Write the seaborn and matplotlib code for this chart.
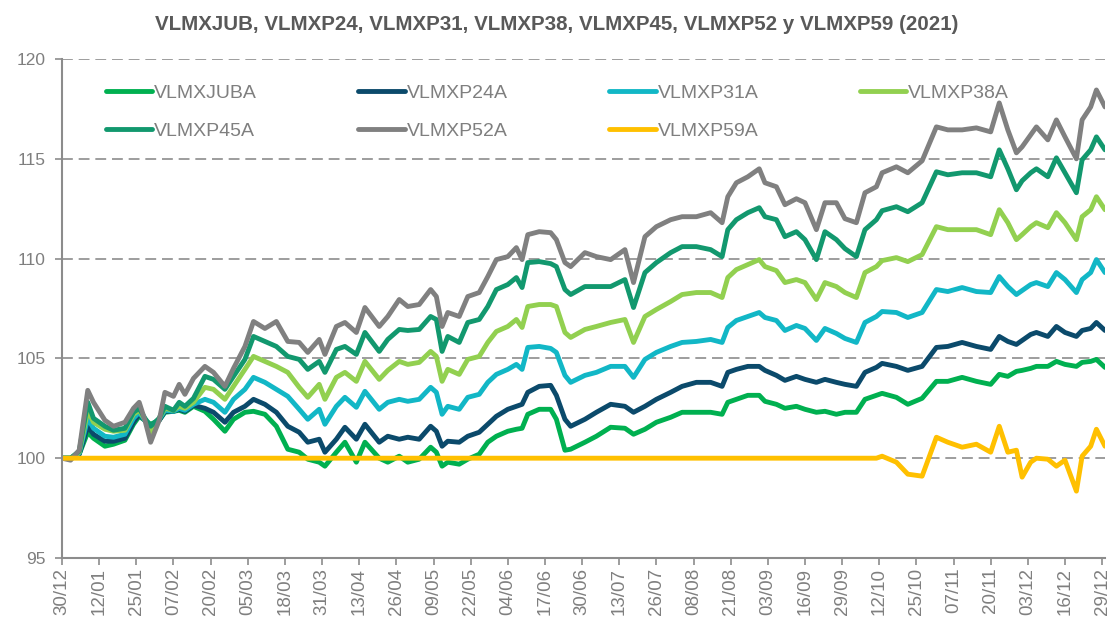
import pandas as pd
import matplotlib
matplotlib.use('Agg')
import matplotlib.pyplot as plt
import matplotlib.dates as mdates
import seaborn as sns

# Data (index base 100, 2021)
fechas = ['2020-12-30', '2021-01-02', '2021-01-05', '2021-01-08', '2021-01-10', '2021-01-14', '2021-01-17', '2021-01-21', '2021-01-24', '2021-01-26',
          '2021-01-28', '2021-01-30', '2021-02-02', '2021-02-04', '2021-02-07', '2021-02-09', '2021-02-11', '2021-02-14', '2021-02-18', '2021-02-21',
          '2021-02-25', '2021-02-28', '2021-03-04', '2021-03-07', '2021-03-11', '2021-03-15', '2021-03-19', '2021-03-23', '2021-03-26', '2021-03-30',
          '2021-04-01', '2021-04-05', '2021-04-08', '2021-04-12', '2021-04-15', '2021-04-20', '2021-04-23', '2021-04-27', '2021-04-30', '2021-05-04',
          '2021-05-08', '2021-05-10', '2021-05-12', '2021-05-14', '2021-05-18', '2021-05-21', '2021-05-25', '2021-05-28', '2021-05-31', '2021-06-04',
          '2021-06-07', '2021-06-09', '2021-06-11', '2021-06-15', '2021-06-19', '2021-06-21', '2021-06-24', '2021-06-26', '2021-07-01', '2021-07-05',
          '2021-07-10', '2021-07-15', '2021-07-18', '2021-07-22', '2021-07-26', '2021-07-31', '2021-08-04', '2021-08-09', '2021-08-14', '2021-08-18',
          '2021-08-20', '2021-08-23', '2021-08-27', '2021-08-31', '2021-09-02', '2021-09-06', '2021-09-09', '2021-09-13', '2021-09-16', '2021-09-20',
          '2021-09-23', '2021-09-27', '2021-09-30', '2021-10-04', '2021-10-07', '2021-10-11', '2021-10-13', '2021-10-18', '2021-10-22', '2021-10-27',
          '2021-11-01', '2021-11-05', '2021-11-10', '2021-11-15', '2021-11-20', '2021-11-23', '2021-11-26', '2021-11-29', '2021-12-01', '2021-12-04',
          '2021-12-06', '2021-12-10', '2021-12-13', '2021-12-16', '2021-12-20', '2021-12-22', '2021-12-25', '2021-12-27', '2021-12-30']

vlmxjuba = [100.0, 100.0, 100.2, 101.3, 101.0, 100.6, 100.7, 100.9, 101.7, 102.1,
            101.9, 101.7, 101.9, 102.3, 102.35, 102.4, 102.3, 102.6, 102.35, 101.95,
            101.35, 101.95, 102.3, 102.35, 102.2, 101.6, 100.45, 100.3, 99.95, 99.8,
            99.6, 100.3, 100.8, 99.8, 100.8, 100.0, 99.8, 100.1, 99.8, 99.95,
            100.55, 100.3, 99.6, 99.8, 99.7, 99.95, 100.2, 100.8, 101.1, 101.35,
            101.45, 101.5, 102.2, 102.45, 102.45, 101.95, 100.4, 100.45, 100.8, 101.1,
            101.55, 101.5, 101.2, 101.45, 101.8, 102.05, 102.3, 102.3, 102.3, 102.2,
            102.8, 102.95, 103.15, 103.15, 102.85, 102.7, 102.5, 102.6, 102.45, 102.3,
            102.35, 102.2, 102.3, 102.3, 102.95, 103.15, 103.25, 103.05, 102.7, 103.0,
            103.85, 103.85, 104.05, 103.85, 103.7, 104.2, 104.1, 104.35, 104.4, 104.5,
            104.6, 104.6, 104.85, 104.7, 104.6, 104.8, 104.85, 104.95, 104.55]

vlmxp24a = [100.0, 100.0, 100.2, 101.6, 101.2, 100.85, 100.85, 101.0, 101.8, 102.2,
            101.9, 101.6, 101.9, 102.35, 102.35, 102.45, 102.35, 102.65, 102.5, 102.3,
            101.8, 102.3, 102.6, 102.95, 102.7, 102.3, 101.6, 101.3, 100.8, 100.95,
            100.3, 100.95, 101.55, 100.95, 101.7, 100.8, 101.1, 100.95, 101.05, 100.95,
            101.6, 101.35, 100.6, 100.85, 100.8, 101.1, 101.3, 101.7, 102.1, 102.45,
            102.6, 102.7, 103.3, 103.6, 103.65, 103.15, 101.95, 101.6, 101.95, 102.3,
            102.7, 102.6, 102.3, 102.6, 102.95, 103.3, 103.6, 103.8, 103.8, 103.6,
            104.3, 104.45, 104.6, 104.6, 104.4, 104.15, 103.9, 104.1, 103.95, 103.8,
            103.95, 103.8, 103.7, 103.6, 104.3, 104.55, 104.75, 104.6, 104.4, 104.6,
            105.55, 105.6, 105.8, 105.6, 105.45, 106.1, 105.85, 105.7, 105.9, 106.2,
            106.3, 106.1, 106.6, 106.3, 106.1, 106.4, 106.5, 106.8, 106.4]

vlmxp31a = [100.0, 100.0, 100.25, 102.0, 101.5, 101.1, 101.05, 101.2, 102.0, 102.3,
            101.9, 101.5, 101.95, 102.4, 102.35, 102.5, 102.4, 102.7, 102.95, 102.8,
            102.3, 102.95, 103.45, 104.05, 103.8, 103.45, 103.1, 102.45, 101.95, 102.45,
            101.7, 102.6, 103.05, 102.55, 103.35, 102.45, 102.8, 102.95, 102.85, 102.95,
            103.55, 103.3, 102.2, 102.6, 102.45, 103.05, 103.2, 103.8, 104.2, 104.45,
            104.7, 104.45, 105.55, 105.6, 105.5, 105.3, 104.15, 103.8, 104.15, 104.3,
            104.6, 104.6, 104.05, 104.95, 105.3, 105.6, 105.8, 105.85, 105.95, 105.8,
            106.55, 106.9, 107.1, 107.3, 107.05, 106.9, 106.4, 106.65, 106.5, 105.9,
            106.5, 106.25, 106.0, 105.8, 106.8, 107.1, 107.35, 107.3, 107.05, 107.3,
            108.45, 108.35, 108.55, 108.35, 108.3, 109.1, 108.6, 108.2, 108.4, 108.7,
            108.8, 108.6, 109.3, 108.95, 108.3, 108.95, 109.3, 109.95, 109.3]

vlmxp38a = [100.0, 100.0, 100.3, 102.4, 101.8, 101.45, 101.35, 101.4, 102.2, 102.4,
            101.95, 101.3, 102.0, 102.5, 102.4, 102.6, 102.5, 102.8, 103.55, 103.45,
            102.95, 103.6, 104.45, 105.1, 104.85, 104.6, 104.3, 103.55, 103.05, 103.7,
            102.95, 104.05, 104.3, 103.85, 104.85, 103.95, 104.4, 104.85, 104.7, 104.8,
            105.35, 105.1, 103.85, 104.45, 104.2, 104.95, 105.1, 105.8, 106.35, 106.6,
            106.95, 106.55, 107.6, 107.7, 107.7, 107.6, 106.3, 106.05, 106.45, 106.6,
            106.8, 106.95, 105.8, 107.1, 107.45, 107.85, 108.2, 108.3, 108.3, 108.05,
            109.05, 109.45, 109.7, 109.95, 109.6, 109.4, 108.8, 108.95, 108.8, 107.95,
            108.8, 108.6, 108.3, 108.05, 109.3, 109.6, 109.9, 110.05, 109.85, 110.2,
            111.6, 111.45, 111.45, 111.45, 111.2, 112.45, 111.8, 110.95, 111.2, 111.6,
            111.8, 111.55, 112.3, 111.8, 110.95, 112.1, 112.45, 113.1, 112.45]

vlmxp45a = [100.0, 100.0, 100.35, 102.8, 102.0, 101.6, 101.4, 101.5, 102.3, 102.5,
            102.0, 101.6, 102.0, 102.6, 102.4, 102.8, 102.6, 103.0, 104.1, 103.95,
            103.45, 104.1, 104.95, 106.1, 105.85, 105.6, 105.1, 104.95, 104.45, 104.85,
            104.3, 105.45, 105.6, 105.2, 106.3, 105.35, 105.95, 106.45, 106.4, 106.45,
            107.1, 106.95, 105.35, 106.1, 105.8, 106.8, 106.95, 107.6, 108.45, 108.7,
            109.05, 108.55, 109.8, 109.85, 109.75, 109.6, 108.45, 108.2, 108.6, 108.6,
            108.6, 108.95, 107.55, 109.3, 109.8, 110.3, 110.6, 110.6, 110.45, 110.1,
            111.45, 111.95, 112.3, 112.55, 112.1, 111.95, 111.1, 111.35, 110.95, 109.95,
            111.35, 110.95, 110.5, 110.1, 111.45, 111.95, 112.4, 112.6, 112.35, 112.8,
            114.35, 114.2, 114.3, 114.3, 114.1, 115.45, 114.5, 113.45, 113.9, 114.3,
            114.5, 114.1, 115.05, 114.3, 113.3, 114.95, 115.45, 116.1, 115.45]

vlmxp52a = [100.0, 99.9, 100.4, 103.4, 102.8, 101.9, 101.6, 101.8, 102.5, 102.8,
            101.9, 100.8, 101.9, 103.3, 103.1, 103.7, 103.2, 104.0, 104.6, 104.3,
            103.6, 104.5, 105.6, 106.85, 106.5, 106.85, 105.85, 105.8, 105.3, 105.95,
            105.2, 106.6, 106.8, 106.3, 107.55, 106.6, 107.1, 107.95, 107.6, 107.7,
            108.45, 108.1, 106.6, 107.3, 107.1, 108.1, 108.3, 109.1, 109.95, 110.1,
            110.55, 109.95, 111.2, 111.35, 111.3, 110.95, 109.8, 109.6, 110.3, 110.1,
            109.95, 110.45, 108.8, 111.1, 111.6, 111.95, 112.1, 112.1, 112.3, 111.8,
            113.1, 113.8, 114.1, 114.5, 113.8, 113.6, 112.7, 113.0, 112.8, 111.45,
            112.8, 112.8, 112.0, 111.8, 113.3, 113.6, 114.3, 114.6, 114.3, 114.9,
            116.6, 116.45, 116.45, 116.55, 116.35, 117.8, 116.45, 115.3, 115.6, 116.2,
            116.6, 115.95, 116.95, 116.1, 115.0, 116.95, 117.6, 118.45, 117.6]

vlmxp59a = [100.0, 100.0, 100.0, 100.0, 100.0, 100.0, 100.0, 100.0, 100.0, 100.0,
            100.0, 100.0, 100.0, 100.0, 100.0, 100.0, 100.0, 100.0, 100.0, 100.0,
            100.0, 100.0, 100.0, 100.0, 100.0, 100.0, 100.0, 100.0, 100.0, 100.0,
            100.0, 100.0, 100.0, 100.0, 100.0, 100.0, 100.0, 100.0, 100.0, 100.0,
            100.0, 100.0, 100.0, 100.0, 100.0, 100.0, 100.0, 100.0, 100.0, 100.0,
            100.0, 100.0, 100.0, 100.0, 100.0, 100.0, 100.0, 100.0, 100.0, 100.0,
            100.0, 100.0, 100.0, 100.0, 100.0, 100.0, 100.0, 100.0, 100.0, 100.0,
            100.0, 100.0, 100.0, 100.0, 100.0, 100.0, 100.0, 100.0, 100.0, 100.0,
            100.0, 100.0, 100.0, 100.0, 100.0, 100.0, 100.1, 99.8, 99.2, 99.1,
            101.05, 100.8, 100.55, 100.7, 100.3, 101.6, 100.3, 100.4, 99.05, 99.8,
            100.0, 99.95, 99.6, 99.9, 98.35, 100.1, 100.6, 101.45, 100.6]

series = ['VLMXJUBA', 'VLMXP24A', 'VLMXP31A', 'VLMXP38A', 'VLMXP45A', 'VLMXP52A', 'VLMXP59A']
colores = ['#00B050', '#0B4A6B', '#12B7C6', '#92D050', '#12986E', '#808080', '#FFC000']
y_ticks = [95, 100, 105, 110, 115, 120]
titulo = 'VLMXJUB, VLMXP24, VLMXP31, VLMXP38, VLMXP45, VLMXP52 y VLMXP59 (2021)'

df = pd.DataFrame({'fecha': pd.to_datetime(fechas),
                   'VLMXJUBA': vlmxjuba, 'VLMXP24A': vlmxp24a, 'VLMXP31A': vlmxp31a,
                   'VLMXP38A': vlmxp38a, 'VLMXP45A': vlmxp45a, 'VLMXP52A': vlmxp52a,
                   'VLMXP59A': vlmxp59a})
largo = df.melt(id_vars='fecha', var_name='serie', value_name='valor')

sns.set_style('white')
plt.rcParams['font.family'] = ['Liberation Sans', 'DejaVu Sans']

gris = '#8C8C8C'
texto = '#7F7F7F'

fig = plt.figure(figsize=(11.14, 6.18), dpi=100)
ax = fig.add_axes([0.0557, 0.0971, 0.9362, 0.8074])

sns.lineplot(data=largo, x='fecha', y='valor', hue='serie', hue_order=series,
             palette=dict(zip(series, colores)), linewidth=3.5, ax=ax)

ax.set_xlim(pd.Timestamp('2020-12-30'), pd.Timestamp('2021-12-30'))
ax.set_ylim(95, 120)
ax.set_yticks(y_ticks)
ax.set_xticks(pd.date_range('2020-12-30', '2021-12-29', freq='13D'))
ax.xaxis.set_major_formatter(mdates.DateFormatter('%d/%m'))
ax.set_xlabel('')
ax.set_ylabel('')

ax.set_axisbelow(True)
ax.yaxis.grid(True, linestyle=(0, (6.5, 3.5)), color=gris, linewidth=1.2)
ax.xaxis.grid(False)

sns.despine(ax=ax)
for s in ['left', 'bottom']:
    ax.spines[s].set_color(gris)
    ax.spines[s].set_linewidth(1.5)

ax.tick_params(axis='x', direction='out', length=5, width=1.2, color=gris,
               labelrotation=90, labelsize=13.5, labelcolor=texto, pad=2, bottom=True)
ax.tick_params(axis='y', direction='out', length=5, width=1.2, color=gris,
               labelsize=12.5, labelcolor=texto, pad=7, left=True)

# legend filled column by column -> reorder to read row by row
handles, labels = ax.get_legend_handles_labels()
orden = [0, 4, 1, 5, 2, 6, 3]
ax.legend([handles[i] for i in orden], [labels[i] for i in orden],
          ncol=4, frameon=False, loc='upper left', bbox_to_anchor=(0.025, 0.985),
          fontsize=14, labelcolor=texto, handlelength=2.4, handletextpad=0.1,
          columnspacing=5.2, labelspacing=1.05)

fig.text(0.5, 1 - 25 / 618, titulo, ha='center', va='center', fontsize=14.8,
         fontweight='bold', color='#595959')

fig.savefig('out.png', dpi=100)
